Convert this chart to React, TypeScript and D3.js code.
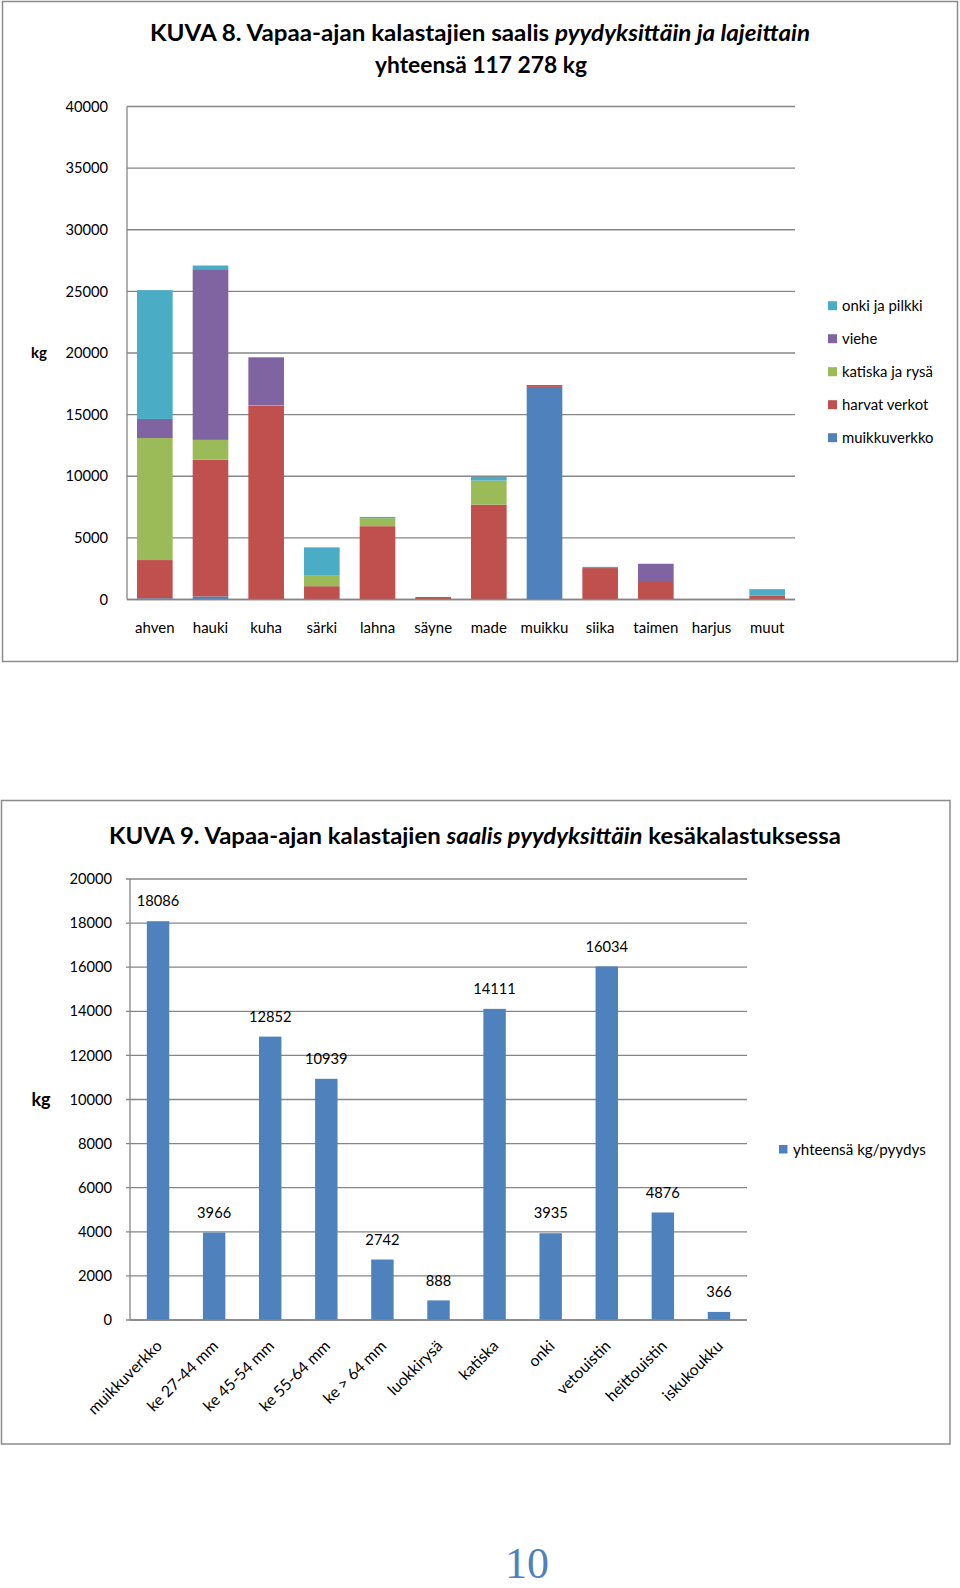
import React from "react";
import * as d3 from "d3";

// ---------- KUVA 8 data ----------
const species = ["ahven", "hauki", "kuha", "särki", "lahna", "säyne", "made", "muikku", "siika", "taimen", "harjus", "muut"];
const muikkuverkko = [100, 250, 0, 0, 0, 0, 0, 17250, 0, 0, 0, 0];
const harvatVerkot = [3100, 11100, 15700, 1080, 5950, 200, 7700, 150, 2550, 1500, 0, 320];
const katiskaJaRysa = [9900, 1600, 50, 900, 650, 0, 1950, 0, 0, 0, 0, 0];
const viehe = [1550, 13850, 3900, 0, 0, 0, 0, 0, 0, 1400, 0, 0];
const onkiJaPilkki = [10450, 300, 0, 2250, 100, 0, 300, 0, 100, 0, 0, 520];
const seriesNames = ["muikkuverkko", "harvat verkot", "katiska ja rysä", "viehe", "onki ja pilkki"];
const seriesColors = ["#4F81BD", "#C0504D", "#9BBB59", "#8064A2", "#4BACC6"];
const ticks1 = [0, 5000, 10000, 15000, 20000, 25000, 30000, 35000, 40000];

// ---------- KUVA 9 data ----------
const gears = ["muikkuverkko", "ke 27-44 mm", "ke 45-54 mm", "ke 55-64 mm", "ke > 64 mm", "luokkirysä", "katiska", "onki", "vetouistin", "heittouistin", "iskukoukku"];
const gearTotals = [18086, 3966, 12852, 10939, 2742, 888, 14111, 3935, 16034, 4876, 366];
const ticks2 = [0, 2000, 4000, 6000, 8000, 10000, 12000, 14000, 16000, 18000, 20000];

const FONT = "Lato, 'Open Sans', sans-serif";
const GRID = "#868686";
const BORDER = "#8C8C8C";

function Chart1() {
  const x = d3.scaleBand<string>().domain(species).range([127, 795]).paddingInner(0.36).paddingOuter(0.18);
  const y = d3.scaleLinear().domain([0, 40000]).range([599.5, 106.5]);
  const seriesArrays = [muikkuverkko, harvatVerkot, katiskaJaRysa, viehe, onkiJaPilkki];
  const rows = species.map((s, i) => {
    const r: any = { cat: s };
    seriesNames.forEach((n, k) => (r[n] = seriesArrays[k][i]));
    return r;
  });
  const stacked = d3.stack<any>().keys(seriesNames)(rows);
  return (
    <g>
      <rect x={2.5} y={1.5} width={955} height={660} fill="#fff" stroke={BORDER} strokeWidth={1.5} />
      <text x={150} y={41} textLength={660} lengthAdjust="spacingAndGlyphs" fontFamily={FONT} fontWeight="bold" fontSize={22} fill="#000">
        KUVA 8. Vapaa-ajan kalastajien saalis <tspan fontStyle="italic">pyydyksittäin ja lajeittain</tspan>
      </text>
      <text x={375} y={73} textLength={212} lengthAdjust="spacingAndGlyphs" fontFamily={FONT} fontWeight="bold" fontSize={22} fill="#000">
        yhteensä 117 278 kg
      </text>
      {ticks1.map((t) => (
        <g key={t}>
          <line x1={127} x2={795} y1={y(t)} y2={y(t)} stroke={GRID} strokeWidth={1.3} />
          <text x={108} y={y(t)} dy="0.35em" textAnchor="end" fontFamily={FONT} fontSize={14.7} fill="#000">
            {t}
          </text>
        </g>
      ))}
      <line x1={127} x2={127} y1={y(40000)} y2={y(0)} stroke={GRID} strokeWidth={1.3} />
      <text x={39} y={353} dy="0.35em" textAnchor="middle" fontFamily={FONT} fontWeight="bold" fontSize={15} fill="#000">
        kg
      </text>
      {stacked.map((layer, k) => (
        <g key={layer.key} fill={seriesColors[k]}>
          {layer.map((d, i) =>
            d[1] - d[0] > 0 ? (
              <rect key={i} x={x(species[i])} width={x.bandwidth()} y={y(d[1])} height={y(d[0]) - y(d[1])} />
            ) : null
          )}
        </g>
      ))}
      <line x1={127} x2={795} y1={y(0)} y2={y(0)} stroke={GRID} strokeWidth={1.3} />
      {species.map((s) => (
        <text key={s} x={(x(s) as number) + x.bandwidth() / 2} y={633} textAnchor="middle" fontFamily={FONT} fontSize={15} fill="#000">
          {s}
        </text>
      ))}
      {seriesNames
        .slice()
        .reverse()
        .map((n, j) => {
          const k = seriesNames.length - 1 - j;
          const cy = 305.7 + j * 33;
          return (
            <g key={n}>
              <rect x={828} y={cy - 4.5} width={9} height={9} fill={seriesColors[k]} />
              <text x={842} y={cy} dy="0.35em" fontFamily={FONT} fontSize={14.9} fill="#000">
                {n}
              </text>
            </g>
          );
        })}
    </g>
  );
}

function Chart2() {
  const x = d3.scaleBand<string>().domain(gears).range([130, 747]).paddingInner(0.6).paddingOuter(0.3);
  const y = d3.scaleLinear().domain([0, 20000]).range([1320, 879]);
  return (
    <g>
      <rect x={1.5} y={800.5} width={948.5} height={643.5} fill="#fff" stroke={BORDER} strokeWidth={1.5} />
      <text x={109} y={844} textLength={732} lengthAdjust="spacingAndGlyphs" fontFamily={FONT} fontWeight="bold" fontSize={23} fill="#000">
        KUVA 9. Vapaa-ajan kalastajien <tspan fontStyle="italic">saalis pyydyksittäin</tspan> kesäkalastuksessa
      </text>
      {ticks2.map((t) => (
        <g key={t}>
          <line x1={126} x2={747} y1={y(t)} y2={y(t)} stroke={GRID} strokeWidth={1.3} />
          <text x={112} y={y(t)} dy="0.35em" textAnchor="end" fontFamily={FONT} fontSize={14.7} fill="#000">
            {t}
          </text>
        </g>
      ))}
      <line x1={130} x2={130} y1={y(20000)} y2={y(0)} stroke={GRID} strokeWidth={1.3} />
      <text x={41} y={1100} dy="0.35em" textAnchor="middle" fontFamily={FONT} fontWeight="bold" fontSize={18} fill="#000">
        kg
      </text>
      {gears.map((g, i) => {
        const cx = (x(g) as number) + x.bandwidth() / 2;
        return (
          <g key={g}>
            <rect x={x(g)} width={x.bandwidth()} y={y(gearTotals[i])} height={y(0) - y(gearTotals[i])} fill="#4F81BD" />
            <text x={cx} y={y(gearTotals[i]) - 20} dy="0.35em" textAnchor="middle" fontFamily={FONT} fontSize={14.7} fill="#000">
              {gearTotals[i]}
            </text>
            <text
              transform={`translate(${cx + 5},${y(0) + 27}) rotate(-45)`}
              textAnchor="end"
              fontFamily={FONT}
              fontSize={15.8}
              fill="#000"
            >
              {g}
            </text>
          </g>
        );
      })}
      <line x1={130} x2={747} y1={y(0)} y2={y(0)} stroke={GRID} strokeWidth={1.3} />
      <rect x={779} y={1145} width={8.5} height={8.5} fill="#4F81BD" />
      <text x={793} y={1149.5} dy="0.35em" fontFamily={FONT} fontSize={15.2} fill="#000">
        yhteensä kg/pyydys
      </text>
    </g>
  );
}

export default function App() {
  return (
    <svg width={960} height={1588} style={{ position: "absolute", left: 0, top: 0, background: "#fff" }}>
      <rect x={0} y={0} width={960} height={1588} fill="#fff" />
      <Chart1 />
      <Chart2 />
      <text x={527} y={1578} textAnchor="middle" fontFamily="'Liberation Serif', serif" fontSize={44} fill="#4F81BD">
        10
      </text>
    </svg>
  );
}
